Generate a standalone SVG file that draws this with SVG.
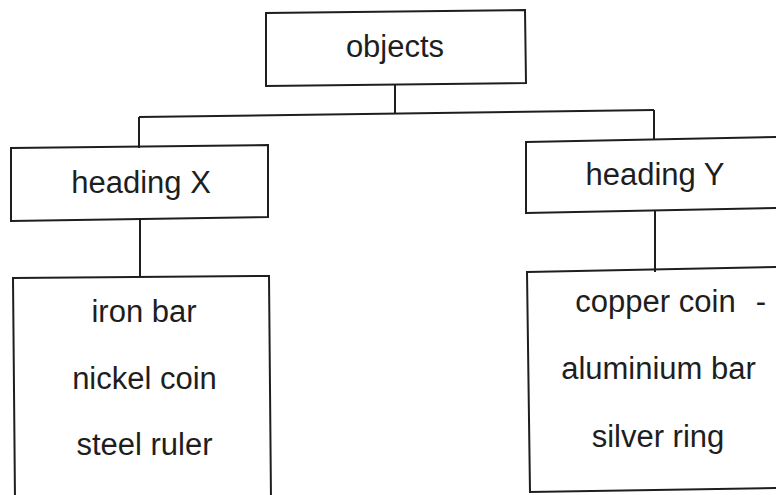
<svg xmlns="http://www.w3.org/2000/svg" width="776" height="495" viewBox="0 0 776 495">
<style>
.box{fill:none;stroke:#1e1e1e;stroke-width:2;stroke-linejoin:miter}
.con{fill:none;stroke:#1e1e1e;stroke-width:2}
text{font-family:"Liberation Sans",Arial,sans-serif;font-size:31px;fill:#1e1e1e;text-anchor:middle}
</style>
<rect width="776" height="495" fill="#ffffff"/>
<g id="connectors">
<path class="con" d="M395,85 L395,114"/>
<path class="con" d="M139,117 L654,110"/>
<path class="con" d="M139,117 L139,148"/>
<path class="con" d="M654,110 L654,140"/>
<path class="con" d="M140,219 L140,277"/>
<path class="con" d="M655,211 L655,272"/>
</g>
<g id="objects">
<path class="box" d="M266,13 L525,10 L526,83 L266,86 Z"/>
<text x="395" y="57">objects</text>
</g>
<g id="headingX">
<path class="box" d="M11,148 L268,145 L268,217 L11,221 Z"/>
<text x="141" y="193">heading X</text>
</g>
<g id="headingY">
<path class="box" d="M526,142 L778,137 L778,208 L526,213 Z"/>
<text x="655" y="185">heading Y</text>
</g>
<g id="listX">
<path class="box" d="M13,278 L269,276 L271,500 L15,500 Z"/>
<text x="144" y="322">iron bar</text>
<text x="144.5" y="389">nickel coin</text>
<text x="144.5" y="455">steel ruler</text>
</g>
<g id="listY">
<path class="box" d="M527,272 L778,267 L778,488 L530,492 Z"/>
<text x="655.5" y="312">copper coin</text>
<text x="761" y="312">-</text>
<text x="658.5" y="379">aluminium bar</text>
<text x="658" y="447">silver ring</text>
</g>
</svg>
